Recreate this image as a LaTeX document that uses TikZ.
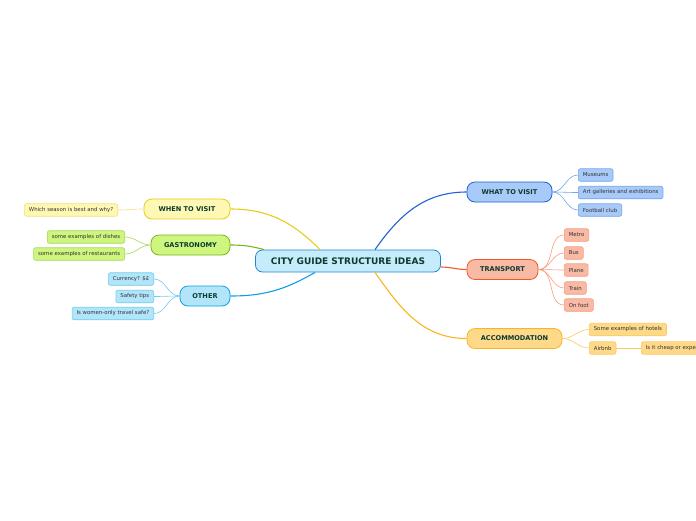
\documentclass[tikz,border=0pt]{standalone}
\usepackage{fontspec}
\setmainfont{DejaVu Sans}
\usepackage{xcolor}
\usetikzlibrary{positioning,calc}
\definecolor{cityfill}{HTML}{C6ECFC}\definecolor{citydraw}{HTML}{1C8AD4}
\definecolor{visfill}{HTML}{A8CAF8}\definecolor{visdraw}{HTML}{1F62D0}\definecolor{visleaf}{HTML}{74A4EE}
\definecolor{trafill}{HTML}{F9BAA5}\definecolor{tradraw}{HTML}{F05A28}\definecolor{traleaf}{HTML}{F79C80}
\definecolor{accfill}{HTML}{FED98A}\definecolor{accdraw}{HTML}{FBB520}\definecolor{accleaf}{HTML}{FCCB60}
\definecolor{whefill}{HTML}{FFF7B4}\definecolor{whedraw}{HTML}{E8CE18}\definecolor{wheleaf}{HTML}{F2E27A}
\definecolor{gasfill}{HTML}{CEF57E}\definecolor{gasdraw}{HTML}{7AB51D}\definecolor{gasleaf}{HTML}{A8D85A}
\definecolor{othfill}{HTML}{B2E5F9}\definecolor{othdraw}{HTML}{0EA0E4}\definecolor{othleaf}{HTML}{70CBF0}
\definecolor{maintext}{HTML}{0B3B2E}
\tikzset{
  %% Central topic
  citybox/.style={
    rectangle, rounded corners=7pt, draw=citydraw, fill=cityfill, line width=0.8pt,
    minimum width=185pt, minimum height=22pt, inner sep=0pt,
    font=\fontsize{9}{10}\selectfont\bfseries, text=maintext},
  %% Main topics
  topicbox/.style={
    rectangle, rounded corners=8pt, line width=0.8pt,
    minimum height=20pt, inner sep=0pt,
    font=\fontsize{6.6}{7.5}\selectfont\bfseries, text=maintext},
  %% Sub topics
  leafbox/.style={
    rectangle, rounded corners=2pt, line width=0.6pt,
    minimum height=12.5pt, inner xsep=4.5pt, inner ysep=0pt,
    font=\fontsize{5.4}{6}\selectfont, text=black!80},
  %% Connectors
  mainwire/.style={line width=1.1pt},
  leafwire/.style={line width=0.6pt},
}
\begin{document}
\begin{tikzpicture}[x=1pt, y=-1pt]
  \useasboundingbox[fill=white] (0,0) rectangle (696,520);

  %% Central topic
  \node[citybox] (city) at (348,261) {CITY GUIDE STRUCTURE IDEAS};

  %% Main topics
  \node[topicbox, draw=visdraw, fill=visfill, minimum width=85pt] (visit) at (509.5,192) {WHAT TO VISIT};
  \node[topicbox, draw=tradraw, fill=trafill, minimum width=71pt] (trans) at (502.5,269.5) {TRANSPORT};
  \node[topicbox, draw=accdraw, fill=accfill, minimum width=95pt] (accom) at (514.5,338.5) {ACCOMMODATION};
  \node[topicbox, draw=whedraw, fill=whefill, minimum width=86pt] (when) at (187,209) {WHEN TO VISIT};
  \node[topicbox, draw=gasdraw, fill=gasfill, minimum width=79pt] (gastro) at (190.5,245) {GASTRONOMY};
  \node[topicbox, draw=othdraw, fill=othfill, minimum width=50pt] (other) at (205,296) {OTHER};

  %% Sub topics, right side
  \node[leafbox, draw=visleaf, fill=visfill, anchor=west] (museum) at (578,175) {Museums};
  \node[leafbox, draw=visleaf, fill=visfill, anchor=west] (gallery) at (578,192.5) {Art galleries and exhibitions};
  \node[leafbox, draw=visleaf, fill=visfill, anchor=west] (football) at (578,210) {Football club};

  \node[leafbox, draw=traleaf, fill=trafill, anchor=west] (metro) at (564,235) {Metro};
  \node[leafbox, draw=traleaf, fill=trafill, anchor=west] (bus) at (564,253) {Bus};
  \node[leafbox, draw=traleaf, fill=trafill, anchor=west] (plane) at (564,270) {Plane};
  \node[leafbox, draw=traleaf, fill=trafill, anchor=west] (train) at (564,288) {Train};
  \node[leafbox, draw=traleaf, fill=trafill, anchor=west] (foot) at (564,305) {On foot};

  \node[leafbox, draw=accleaf, fill=accfill, anchor=west] (hotels) at (589,329.5) {Some examples of hotels};
  \node[leafbox, draw=accleaf, fill=accfill, anchor=west] (airbnb) at (589,348) {Airbnb};
  \node[leafbox, draw=accleaf, fill=accfill, anchor=west] (cheap) at (641,348) {Is it cheap or expensive?};

  %% Sub topics, left side
  \node[leafbox, draw=wheleaf, fill=whefill, anchor=east] (season) at (118,210) {Which season is best and why?};

  \node[leafbox, draw=gasleaf, fill=gasfill, anchor=east] (dishes) at (125,237) {some examples of dishes};
  \node[leafbox, draw=gasleaf, fill=gasfill, anchor=east] (resto) at (125,254) {some examples of restaurants};

  \node[leafbox, draw=othleaf, fill=othfill, anchor=east] (money) at (154,279) {Currency? \$£};
  \node[leafbox, draw=othleaf, fill=othfill, anchor=east] (safety) at (154,296.5) {Safety tips};
  \node[leafbox, draw=othleaf, fill=othfill, anchor=east] (women) at (154,313.5) {Is women-only travel safe?};

  %% Central to main topics
  \draw[mainwire, visdraw] ([xshift=27pt]city.north) to[out=55, in=180] (visit.west);
  \draw[mainwire, tradraw] ([yshift=-6pt]city.east) to[out=0, in=180] (trans.west);
  \draw[mainwire, accdraw] ([xshift=27pt]city.south) to[out=-55, in=180] (accom.west);
  \draw[mainwire, whedraw] ([xshift=-28pt]city.north) to[out=135, in=0] (when.east);
  \draw[mainwire, gasdraw] ([xshift=9pt]city.north west) to[out=165, in=0] (gastro.east);
  \draw[mainwire, othdraw] ([xshift=-33pt]city.south) to[out=-150, in=0] (other.east);

  %% Main topics to sub topics
  \foreach \leaf in {museum, gallery, football}
    \draw[leafwire, visleaf] (visit.east) to[out=0, in=180] (\leaf.west);
  \foreach \leaf in {metro, bus, plane, train, foot}
    \draw[leafwire, traleaf] (trans.east) to[out=0, in=180] (\leaf.west);
  \foreach \leaf in {hotels, airbnb}
    \draw[leafwire, accleaf] (accom.east) to[out=0, in=180] (\leaf.west);
  \draw[leafwire, accleaf] (airbnb.east) -- (cheap.west);
  \draw[leafwire, wheleaf] (when.west) to[out=180, in=0] (season.east);
  \foreach \leaf in {dishes, resto}
    \draw[leafwire, gasleaf] (gastro.west) to[out=180, in=0] (\leaf.east);
  \foreach \leaf in {money, safety, women}
    \draw[leafwire, othleaf] (other.west) to[out=180, in=0] (\leaf.east);
\end{tikzpicture}
\end{document}
